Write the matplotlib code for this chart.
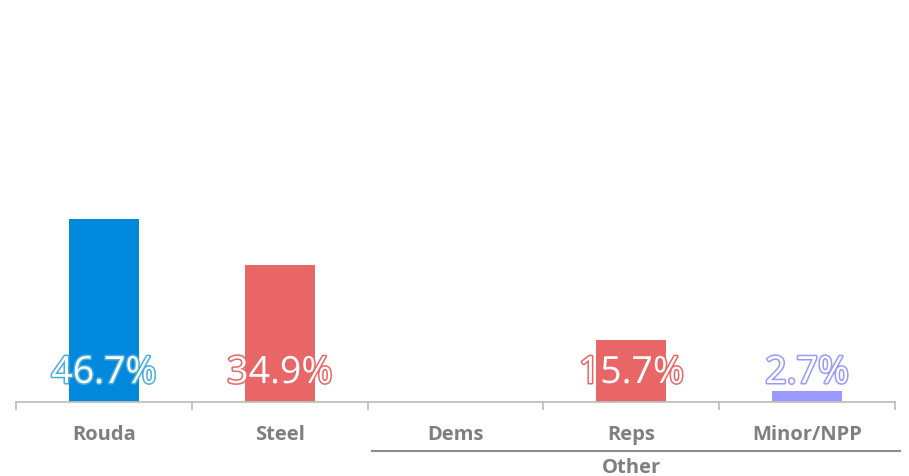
import matplotlib.pyplot as plt
import matplotlib.patheffects as pe
import matplotlib.transforms as mtrans
import numpy as np

categories = ['Rouda', 'Steel', 'Dems', 'Reps', 'Minor/NPP']
values = [46.7, 34.9, None, 15.7, 2.7]
bar_colors = ['#0088dd', '#e86666', '#e86666', '#e86666', '#9999ff']
edge_colors = ['#4aaedc', '#e86666', '#e86666', '#e86666', '#9999ff']
group_name = 'Other'
group_members = ['Dems', 'Reps', 'Minor/NPP']

plt.rcParams['font.family'] = ['Open Sans', 'DejaVu Sans']

fig = plt.figure(figsize=(9.09, 4.77), dpi=100)
ax = fig.add_axes([16/909, 74/477, 879/909, 392/477])

x = np.arange(len(categories))
for i, v in enumerate(values):
    if v is None:
        continue
    ax.bar(x[i], v, width=0.4, color=bar_colors[i])
    t = ax.text(x[i], 7.4, f'{v}%', ha='center', va='center', fontsize=27,
                color='white')
    t.set_path_effects([pe.Stroke(linewidth=2.2, foreground=edge_colors[i]), pe.Normal()])

ax.set_xlim(-0.5, len(categories) - 0.5)
ax.set_ylim(0, 100)
for s in ['top', 'right', 'left']:
    ax.spines[s].set_visible(False)
ax.spines['bottom'].set_color('#bfbfbf')
ax.spines['bottom'].set_linewidth(1.3)
ax.set_yticks([])
ax.set_xticks(np.arange(len(categories) + 1) - 0.5)
ax.set_xticklabels([])
ax.tick_params(axis='x', length=6, width=1.3, color='#bfbfbf')

tr = mtrans.blended_transform_factory(ax.transData, ax.transAxes)
for i, c in enumerate(categories):
    ax.text(x[i], -0.081, c, transform=tr, ha='center', va='center',
            fontsize=14.5, fontweight='bold', color='#7f7f7f')

idx = [categories.index(m) for m in group_members]
x0, x1 = min(idx) - 0.475, max(idx) + 0.53
ax.plot([x0, x1], [-0.125, -0.125], transform=tr, color='#8c8c8c', lw=1.5, clip_on=False)
ax.text((min(idx) + max(idx)) / 2, -0.165, group_name, transform=tr, ha='center',
        va='center', fontsize=14.5, fontweight='bold', color='#7f7f7f')

fig.savefig('out.png', dpi=100)
